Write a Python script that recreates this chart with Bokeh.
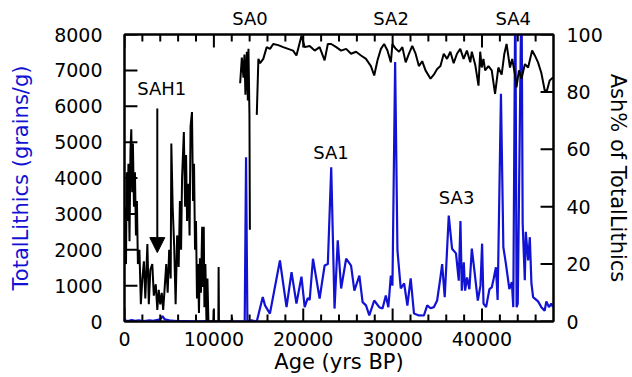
import math
from bokeh.plotting import figure
from bokeh.models import (LinearAxis, Range1d, FixedTicker, Label, Arrow, NormalHead)
from bokeh.embed import file_html
from bokeh.resources import INLINE

NAN = float("nan")

# ---- Ash% of TotalLithics (right axis, black) ----
ash_age = [0, 170, 240, 330, 440, 560, 670, 760, 860, 940, 1060, 1170, 1280, 1390, 1500,
           1670, 1830, 2000, 2170, 2330, 2560, 2720, 2890, 3110, 3280, 3500, 3670, 3830,
           4000, 4170, 4330, 4500, 4670, 4830, 5000, 5170, 5240, 5390, 5560, 5720, 5890,
           6060, 6200, 6330, 6440, 6640, 6780, 6890, 7000, 7170, 7280, 7390, 7550, 7670,
           7780, 7890, 8000, 8110, 8220, 8330, 8440, 8550, 8690, 8780, 8870, 8940, 9050,
           9170, 9280, 9390, 9500, 9940, 9980, 10010, 10500, 10530, 10570, 12000, 12030, 12060,
           NAN,
           12940, 13130, 13310, 13420, 13530, 13690, 13800, 13870, 13980, 14030,
           NAN,
           14800, 14980, 15170, 15530, 15910, 16280, 16640, 17200, 17750, 18310, 18860,
           19240, 19800, 20160, 20720, 21280, 21830, 22390, 22750, 23130, 23690, 24240,
           24800, 25350, 25910, 26460, 27020, 27570, 27940, 28310, 28690, 29050, 29420,
           29800, 29980, 30350, 30720, 31090, 31460, 31830, 32200, 32570, 32940, 33310,
           33680, 34240, 34610, 34980, 35350, 35720, 36090, 36460, 36830, 37200, 37570,
           37940, 38310, 38690, 38860, 39240, 39610, 39800, 39970, 40160, 40350, 40720,
           41090, 41460, 41830, 42200, 42500, 42750, 43130, 43380, 43690, 43860, 44130,
           44420, 44800, 45160, 45610, 45910, 46270, 46640, 47020, 47270, 47570, 47940]
ash_pct = [40, 20, 52, 35, 55, 28, 60, 67, 45, 62, 40, 52, 30, 42, 20,
           25, 6, 15, 21, 8, 27, 6, 18, 20, 9, 13, 4, 11,
           6, 10, 4, 12, 20, 10, 25, 15, 62, 40, 26, 6, 30,
           19, 42, 25, 50, 66, 40, 58, 35, 48, 30, 68, 73, 42,
           55, 25, 35, 8, 20, 3, 22, 10, 33, 12, 33, 5, 20,
           0, 15, 0, 0, 0, 4, 0, 0, 19, 0, 0, 1.5, 0,
           NAN,
           83, 92, 85, 93, 79, 94, 77, 95, 72, 32,
           NAN,
           72, 91.5, 90, 91.5, 95.6, 95, 96.7, 96.3, 95.6, 95, 94.4,
           92.7, 99.6, 95.6, 96, 94.4, 95.6, 91, 96.7, 96.7, 95.6, 94.4,
           95, 93.3, 94, 92.7, 91.5, 89, 85.7, 91, 95, 96.7, 94.4,
           90.3, 96.7, 95, 94, 95.6, 90.3, 93.3, 96, 93.3, 89, 90.7,
           87.5, 84.6, 86, 88, 89, 93.3, 91.5, 94, 90, 93.3, 95,
           91.5, 94.4, 90.3, 94, 89.5, 82.2, 94, 88.5, 91.5, 87.5, 89,
           87.5, 79.3, 88.5, 86, 93.3, 96.7, 88.5, 91.5, 86, 81.6, 87.5,
           84.6, 89.7, 88.5, 94.4, 92.7, 90.3, 86.6, 80.5, 80.5, 84, 85]

# ---- TotalLithics (left axis, blue) ----
lith_age = [0, 400, 800, 1200, 1600, 2000, 2400, 2800, 3200, 3600, 4000, 4250, 4500, 5000,
            5500, 6000, 7000, 8000, 9000, 10000, 11000, 12000, 13000, 13450, 13600, 13750,
            14200, 14800, 15470, 15720, 16270, 17390, 18130, 18690, 19240, 19800, 20160,
            20500, 20720, 21090, 21830, 22390, 22750, 23130, 23500, 23860, 24240, 24800,
            25350, 25720, 26280, 26640, 27020, 27390, 27940, 28500, 28870, 29240, 29520,
            29800, 29980, 30280, 30540, 30910, 31290, 31650, 32020, 32390, 32940, 33500,
            33870, 34240, 34610, 34980, 35350, 35540, 35830, 36280, 36650, 37090, 37400,
            37590, 37740, 37960, 38110, 38330, 38590, 38860, 39160, 39530, 39830, 40010,
            40170, 40460, 40830, 41090, 41310, 41560, 41750, 42120, 42390, 42680, 43060,
            43340, 43500, 43730, 43870, 44000, 44420, 44550, 44790, 44900, 45160, 45350,
            45530, 45720, 46270, 46640, 47010, 47200, 47490, 47750, 47940]
lith_val = [30, 10, 40, 20, 30, 10, 20, 30, 20, 40, 60, 150, 60, 30,
            20, 10, 10, 0, 10, 0, 0, 0, 0, 0, 4580, 0,
            30, 0, 680, 450, 220, 1700, 400, 1375, 500, 1250, 400,
            650, 600, 1750, 640, 1560, 1600, 4300, 360, 2260, 920, 1750,
            1560, 860, 1280, 540, 450, 170, 585, 400, 360, 725, 400,
            1280, 1000, 7230, 1980, 920, 1060, 446, 1200, 223, 170, 167,
            450, 370, 400, 585, 1230, 1600, 680, 2950, 2030, 1900, 1140,
            2800, 860, 1650, 860, 1230, 900, 2030, 1400, 585, 1000, 2170,
            500, 400, 900, 950, 1200, 1510, 600, 6345, 2070, 1600, 900,
            1100, 400, 9500, 400, 500, 9500, 2730, 1150, 2500, 1700, 2350,
            1060, 680, 560, 400, 300, 560, 400, 500, 400]

# ---- tick values ----
x_major = [0, 10000, 20000, 30000, 40000]
x_minor = [t for t in range(2000, 48000, 2000) if t % 10000 != 0]
left_ticks = [0, 1000, 2000, 3000, 4000, 5000, 6000, 7000, 8000]
right_ticks = [0, 20, 40, 60, 80, 100]

# ---- annotations ----
event_names = ["SAH1", "SA1", "SA3"]
event_x = [4170, 23100, 37160]
event_y = [6490, 4700, 3470]
top_names = ["SA0", "SA2", "SA4"]
top_x = [14050, 29830, 43500]

FONT = "DejaVu Sans"
BLUE = "#1212d4"
X0, X1, Y0, Y1, A0, A1 = 0, 48000, 0, 8000, 0, 100
W, H = 632, 377
BL, BR, BT, BB = 124, 77, 34, 56
FW, FH = W - BL - BR, H - BT - BB          # frame size in pixels
TMAJ, TMIN = 13, 7                          # inward tick lengths in pixels

p = figure(width=W, height=H, x_range=Range1d(X0, X1), y_range=Range1d(Y0, Y1),
           output_backend="svg", toolbar_location=None,
           x_axis_location=None, y_axis_location=None,
           min_border_left=BL, min_border_right=BR, min_border_top=BT, min_border_bottom=BB)
p.extra_y_ranges = {"ash": Range1d(A0, A1)}
p.grid.visible = False
p.outline_line_color = "black"
p.outline_line_width = 2


def style(ax):
    ax.axis_line_color = "black"
    ax.axis_line_width = 2
    ax.major_tick_in = 0
    ax.major_tick_out = 0
    ax.minor_tick_in = 0
    ax.minor_tick_out = 0
    ax.major_tick_line_color = None
    ax.minor_tick_line_color = None
    ax.major_label_text_font = FONT
    ax.major_label_text_font_size = "19px"
    ax.major_label_text_color = "black"
    ax.axis_label_text_font = FONT
    ax.axis_label_text_font_size = "21px"
    ax.axis_label_text_font_style = "normal"


left = LinearAxis(ticker=FixedTicker(ticks=left_ticks), axis_label="TotalLithics (grains/g)")
style(left)
left.major_label_standoff = 22
left.axis_label_standoff = 18
left.axis_label_text_color = BLUE
p.add_layout(left, "left")

right = LinearAxis(y_range_name="ash", ticker=FixedTicker(ticks=right_ticks),
                   axis_label="Ash% of TotalLithics")
style(right)
right.major_label_standoff = 13
right.axis_label_standoff = 0
right.axis_label_text_color = "black"
p.add_layout(right, "right")

bottom = LinearAxis(ticker=FixedTicker(ticks=x_major), axis_label="Age (yrs BP)")
style(bottom)
bottom.major_label_standoff = 10
bottom.axis_label_standoff = 1
bottom.axis_label_text_color = "black"
p.add_layout(bottom, "below")

top = LinearAxis(ticker=FixedTicker(ticks=top_x),
                 major_label_overrides={x: n for x, n in zip(top_x, top_names)})
style(top)
top.major_label_text_font_size = "18px"
top.major_label_standoff = 6
p.add_layout(top, "above")

# data
p.line(lith_age, lith_val, line_color=BLUE, line_width=2.2)
p.line(ash_age, ash_pct, y_range_name="ash", line_color="black", line_width=2)

# inward tick marks, drawn after the data as broken polylines
dy_maj = TMAJ / FH * (Y1 - Y0)
dy_min = TMIN / FH * (Y1 - Y0)
dx_maj = TMAJ / FW * (X1 - X0)
tx, ty = [], []
for xs, dy in ((x_major, dy_maj), (x_minor, dy_min)):
    for xv in xs:
        tx += [xv, xv, NAN, xv, xv, NAN]
        ty += [Y1, Y1 - dy, NAN, Y0, Y0 + dy, NAN]
for yv in left_ticks:
    tx += [X0, X0 + dx_maj, NAN]
    ty += [yv, yv, NAN]
p.line(tx, ty, line_color="black", line_width=2)

rx, ry = [], []
for av in right_ticks:
    rx += [X1, X1 - dx_maj, NAN]
    ry += [av, av, NAN]
p.line(rx, ry, y_range_name="ash", line_color="black", line_width=2)

for name, x, y in zip(event_names, event_x, event_y):
    p.add_layout(Label(x=x, y=y, text=name, text_align="center", text_baseline="middle",
                       text_font=FONT, text_font_size="18px", text_color="black"))

p.add_layout(Arrow(x_start=3670, y_start=5940, x_end=3670, y_end=1920, line_width=2,
                   line_color="black",
                   end=NormalHead(size=15, fill_color="black", line_color="black")))

open("out.html", "w").write(file_html(p, INLINE))
